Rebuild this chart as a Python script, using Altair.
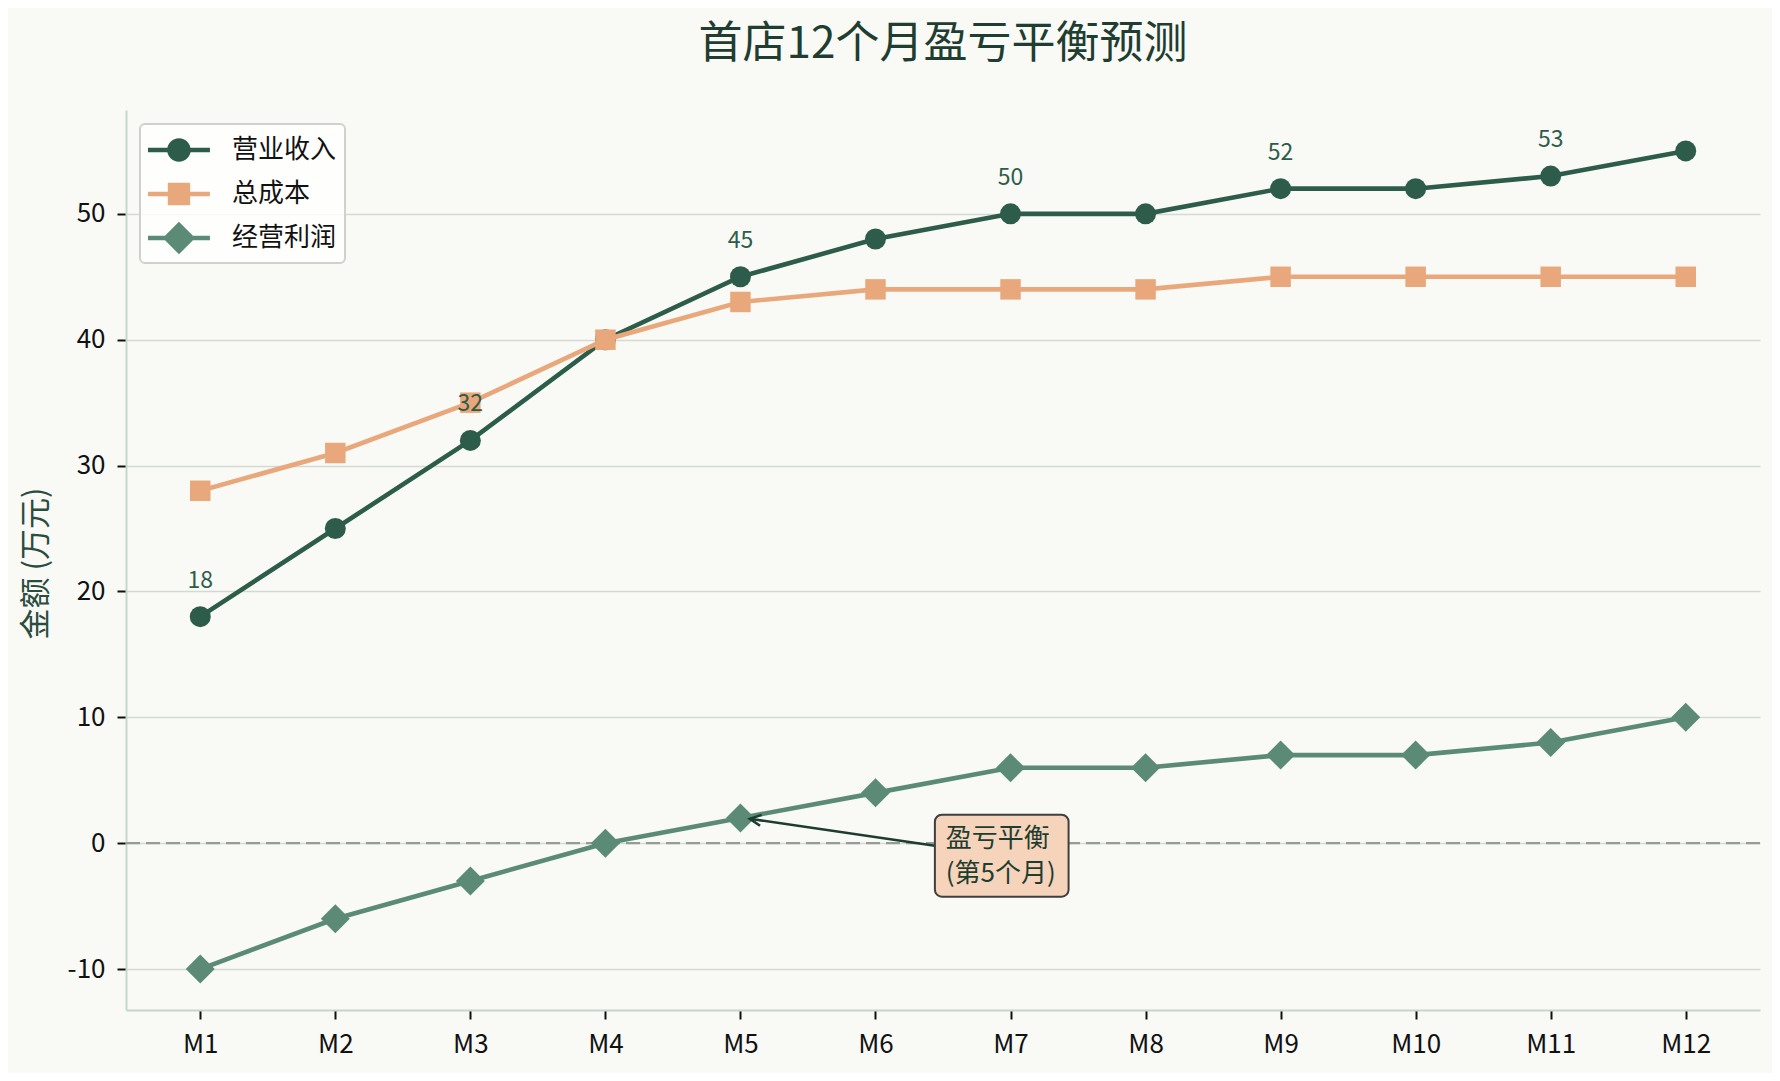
import json

import altair as alt
import pandas as pd

FONT = "Noto Sans CJK SC"

# data
months = ["M1", "M2", "M3", "M4", "M5", "M6", "M7", "M8", "M9", "M10", "M11", "M12"]
revenue = [18, 25, 32, 40, 45, 48, 50, 50, 52, 52, 53, 55]
cost = [28, 31, 35, 40, 43, 44, 44, 44, 45, 45, 45, 45]
profit = [-10, -6, -3, 0, 2, 4, 6, 6, 7, 7, 8, 10]

series_names = ["营业收入", "总成本", "经营利润"]
series_colors = ["#2d5d4a", "#e9a87b", "#5b8b77"]
label_months = ["M1", "M3", "M5", "M7", "M9", "M11"]

note_text = "盈亏平衡\n(第5个月)"

rows = []
for name, vals in zip(series_names, [revenue, cost, profit]):
    for i, (m, v) in enumerate(zip(months, vals)):
        rows.append({"series": name, "month": m, "idx": i, "value": v})
df = pd.DataFrame(rows)

# annotation box / text / arrow in data units
note_box = pd.DataFrame([{"idx": 5.44, "idx2": 6.43, "value": 2.26, "value2": -4.25}])
note_lbl = pd.DataFrame([{"idx": 5.52, "value": 0.36, "txt": note_text}])
note_arrow = pd.DataFrame([{"idx": 5.44, "idx2": 4.07, "value": -0.2, "value2": 1.94}])
arrow_tip = pd.DataFrame([{"idx": 4.07, "value": 1.94}])

x_scale = alt.Scale(domain=[-0.55, len(months) - 0.45], nice=False, zero=False)
y_scale = alt.Scale(domain=[-13.25, 58.25], nice=False, zero=False)
x_axis = alt.Axis(values=list(range(len(months))), labelExpr=f"{json.dumps(months)}[datum.value]",
                  grid=False, title=None, labelFlush=False)
y_axis = alt.Axis(values=[-10, 0, 10, 20, 30, 40, 50], labelExpr="datum.value + ''",
                  title="金额 (万元)", grid=True,
                  titleFontSize=31, titleColor="#2a4d3e", titleFontWeight="normal",
                  titleX=-90, titleY=453, titleAngle=270, titleAlign="center", titleBaseline="middle")


def xe(f="idx"):
    return alt.X(f"{f}:Q", scale=x_scale, axis=x_axis)


def ye(f="value"):
    return alt.Y(f"{f}:Q", scale=y_scale, axis=y_axis)


zero_line = alt.Chart(pd.DataFrame({"value": [0]})).mark_rule(
    color="#959c96", strokeWidth=2.2, strokeDash=[14, 6]).encode(y=ye())

layers = [zero_line]
marker_style = [("circle", 441), ("square", 420), ("diamond", 841)]
for name, color, (shape, size) in zip(series_names, series_colors, marker_style):
    base = alt.Chart(df).transform_filter(alt.datum.series == name)
    layers.append(base.mark_line(color=color, strokeWidth=4.6).encode(x=xe(), y=ye()))
    layers.append(base.mark_point(shape=shape, size=size, filled=True, opacity=1, color=color)
                  .encode(x=xe(), y=ye()))

labels = alt.Chart(df).transform_filter(
    f"datum.series == '{series_names[0]}' && indexof({json.dumps(label_months)}, datum.month) >= 0"
).mark_text(font=FONT, fontSize=23, color="#2d5d4a", dy=-36, baseline="middle").encode(
    x=xe(), y=ye(), text="value:Q")

box = alt.Chart(note_box).mark_rect(fill="#f5d4bb", stroke="#3f3f3f", strokeWidth=2, cornerRadius=7).encode(
    x=xe(), x2="idx2", y=ye(), y2="value2")
box_text = alt.Chart(note_lbl).mark_text(font=FONT, fontSize=26, color="#1e3d30", align="left",
                                         baseline="middle", lineBreak="\n", lineHeight=35).encode(
    x=xe(), y=ye(), text="txt:N")
arrow = alt.Chart(note_arrow).mark_rule(color="#1e3d30", strokeWidth=2.6).encode(
    x=xe(), x2="idx2", y=ye(), y2="value2")
head = alt.Chart(arrow_tip).mark_point(shape="M-1,2L0,0L1,2", size=121, filled=False, color="#1e3d30",
                                       strokeWidth=2.6, angle=278, opacity=1).encode(x=xe(), y=ye())

# legend symbols: line + marker drawn as one path each (unit = 18px, line spans 62px)
seg = "M-1,-0.12L2.44,-0.12L2.44,0.12L-1,0.12Z "
legend_paths = [
    seg + "M1.375,0A0.655,0.655 0 1,1 0.065,0A0.655,0.655 0 1,1 1.375,0Z",
    seg + "M0.1,-0.62L1.34,-0.62L1.34,0.62L0.1,0.62Z",
    seg + "M0.72,-0.9L1.62,0L0.72,0.9L-0.18,0Z",
]
leg = alt.Legend(title=None, orient="top-left", offset=14, symbolSize=1296, symbolOpacity=1,
                 symbolStrokeWidth=0, labelFont=FONT, labelFontSize=26, labelColor="#111111",
                 labelOffset=48, fillColor="rgba(255,255,255,0.8)", strokeColor="#d0d1cc",
                 cornerRadius=5, padding=8, rowPadding=13)
legend_layer = alt.Chart(df).mark_point(filled=True, opacity=0).encode(
    x=xe(), y=ye(),
    color=alt.Color("series:N", scale=alt.Scale(domain=series_names, range=series_colors), legend=leg),
    shape=alt.Shape("series:N", scale=alt.Scale(domain=series_names, range=legend_paths), legend=leg),
)

chart = alt.layer(*layers, labels, arrow, head, box, box_text, legend_layer).properties(
    width=1634, height=900,
    autosize=alt.AutoSizeParams(type="none"),
    padding={"left": 118, "top": 102, "right": 12, "bottom": 63},
    title=alt.TitleParams("首店12个月盈亏平衡预测", font=FONT, fontSize=44, color="#1f3d31",
                          fontWeight="normal", anchor="middle", offset=43),
).configure(background="#f9faf6", font=FONT).configure_view(stroke=None).configure_axis(
    domainColor="#c5d6cb", domainWidth=2, tickColor="#111111", tickWidth=2, tickSize=9,
    labelFont=FONT, labelFontSize=26, labelColor="#111111", labelPadding=12,
    gridColor="#d6d9d2", gridWidth=1.5, titleFont=FONT,
).configure_legend(strokeWidth=2)

chart.save("out.html", embed_options={"renderer": "svg", "actions": False})
